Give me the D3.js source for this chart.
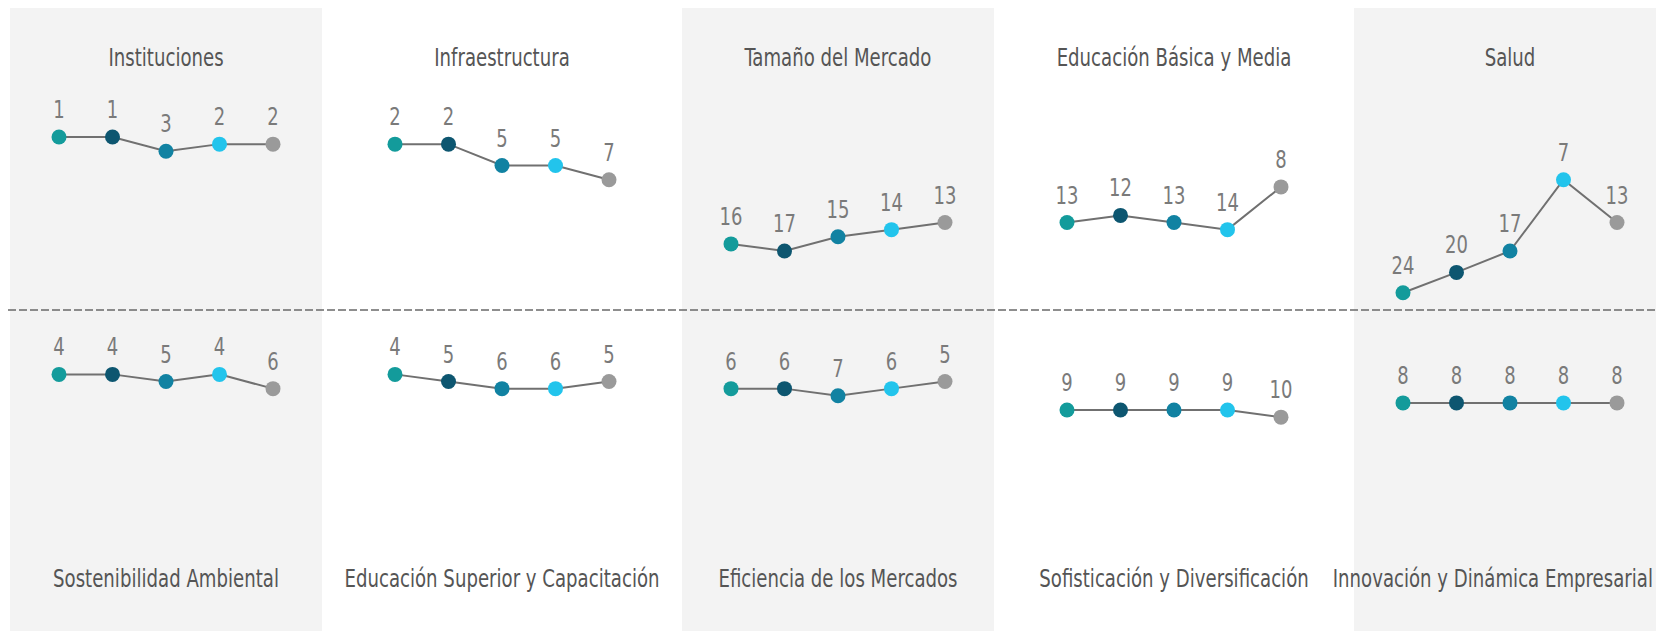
<!DOCTYPE html>
<html>
<head>
<meta charset="utf-8">
<script src="https://cdn.jsdelivr.net/npm/d3@7"></script>
<style>
  body { margin: 0; background: #fff; overflow: hidden; }
  text { font-family: "DejaVu Sans Condensed", "DejaVu Sans", sans-serif; }
</style>
</head>
<body>
<div id="chart"></div>
<script>
// pillars shown above and below the dashed divider
var topPillars = ["Instituciones", "Infraestructura", "Tamaño del Mercado", "Educación Básica y Media", "Salud"];
var bottomPillars = ["Sostenibilidad Ambiental", "Educación Superior y Capacitación", "Eficiencia de los Mercados", "Sofisticación y Diversificación", "Innovación y Dinámica Empresarial"];

// ranking over the five editions
var topRanks = [
  [1, 1, 3, 2, 2],
  [2, 2, 5, 5, 7],
  [16, 17, 15, 14, 13],
  [13, 12, 13, 14, 8],
  [24, 20, 17, 7, 13]
];
var bottomRanks = [
  [4, 4, 5, 4, 6],
  [4, 5, 6, 6, 5],
  [6, 6, 7, 6, 5],
  [9, 9, 9, 9, 10],
  [8, 8, 8, 8, 8]
];

var editionColors = ["#139b9b", "#0d5670", "#1182a2", "#22c4ec", "#9a9a9a"];

var width = 1656, height = 631;
// the original type is a narrow DIN-like face
var squeezeValue = 0.8, squeezeTitle = 0.84;

var svg = d3.select("#chart").append("svg")
  .attr("width", width)
  .attr("height", height);

var panel = d3.scaleBand()
  .domain(d3.range(5))
  .range([10, 1666])
  .paddingInner(0.0714);

// rank scale shared by every panel; deepest ranks are kept above the divider
var y = d3.scaleLinear()
  .domain([1, 22.85])
  .range([137, 292.7])
  .clamp(true);

var x = d3.scaleLinear()
  .domain([0, 4])
  .range([-107, 107]);

// grey backgrounds on alternate columns
svg.selectAll("rect.bg")
  .data(d3.range(5).filter(function(d){ return d % 2 === 0; }))
  .enter()
  .append("rect")
    .attr("class", "bg")
    .attr("x", function(d){ return panel(d); })
    .attr("y", 8)
    .attr("width", panel.bandwidth())
    .attr("height", height - 8)
    .style("fill", "#f3f3f3");

svg.append("line")
  .attr("x1", 8).attr("x2", width)
  .attr("y1", 310).attr("y2", 310)
  .style("stroke", "#6a6a6a")
  .style("stroke-width", 1.5)
  .style("stroke-dasharray", "8,3");

var line = d3.line()
  .x(function(d, i){ return x(i); })
  .y(function(d){ return y(d); });

function drawRow(names, ranks, offset, titleY) {
  var g = svg.append("g").attr("transform", "translate(0 " + offset + ")");

  var cells = g.selectAll("g.cell")
    .data(ranks)
    .enter()
    .append("g")
      .attr("class", "cell")
      .attr("transform", function(d, i){
        return "translate(" + (panel(i) + panel.bandwidth() / 2) + " 0)";
      });

  cells.append("path")
    .attr("d", line)
    .style("fill", "none")
    .style("stroke", "#707070")
    .style("stroke-width", 2);

  cells.selectAll("circle")
    .data(function(d){ return d; })
    .enter()
    .append("circle")
      .attr("cx", function(d, i){ return x(i); })
      .attr("cy", function(d){ return y(d); })
      .attr("r", 7.5)
      .style("fill", function(d, i){ return editionColors[i]; });

  cells.selectAll("text.val")
    .data(function(d){ return d; })
    .enter()
    .append("text")
      .attr("class", "val")
      .attr("transform", function(d, i){
        return "translate(" + x(i) + " " + (y(d) - 19) + ") scale(" + squeezeValue + " 1)";
      })
      .attr("text-anchor", "middle")
      .style("font-size", "25px")
      .style("fill", "#7a7a7a")
      .text(function(d){ return d; });

  svg.selectAll(null)
    .data(names)
    .enter()
    .append("text")
      .attr("text-anchor", "middle")
      .style("font-size", "24px")
      .style("fill", "#555")
      .text(function(d){ return d; })
      .attr("transform", function(d, i){
        // keep a title that would run past the right edge inside the page
        var half = this.getComputedTextLength() * squeezeTitle / 2;
        var cx = Math.min(panel(i) + panel.bandwidth() / 2, width - 3 - half);
        return "translate(" + cx + " " + titleY + ") scale(" + squeezeTitle + " 1)";
      });
}

drawRow(topPillars, topRanks, 0, 66);
drawRow(bottomPillars, bottomRanks, 216, 587);
</script>
</body>
</html>
